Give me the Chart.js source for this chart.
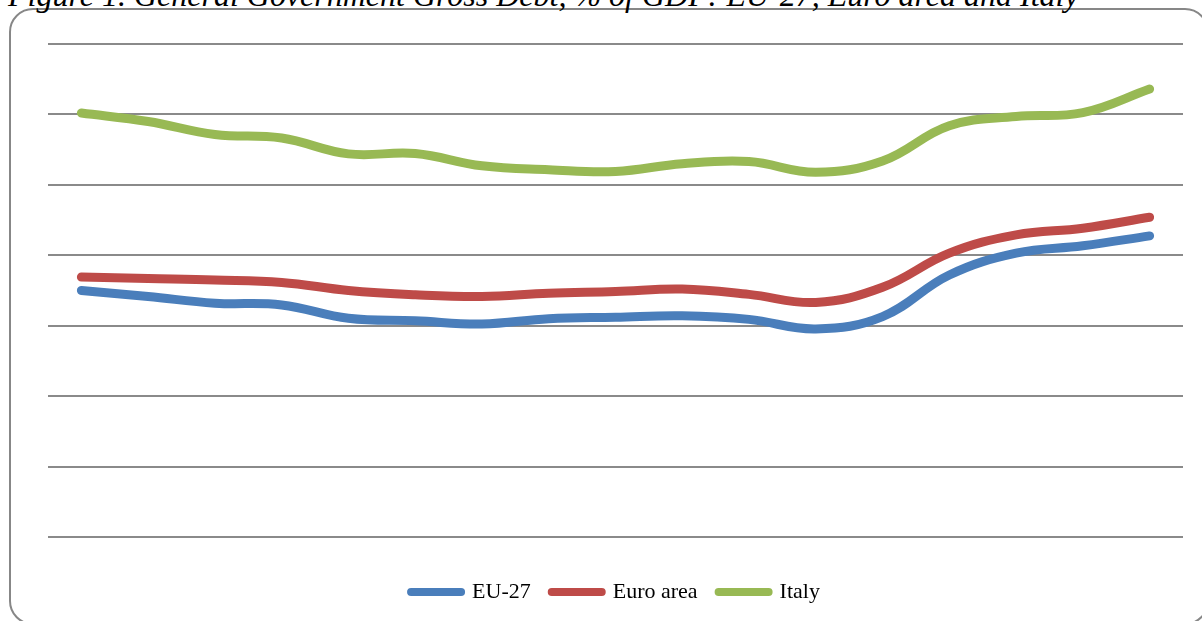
<!DOCTYPE html>
<html>
<head>
<meta charset="utf-8">
<title>General Government Gross Debt</title>
<script src="https://cdn.jsdelivr.net/npm/chart.js@4.4.1/dist/chart.umd.min.js"></script>
<style>
 html,body{margin:0;padding:0;background:#fff;overflow:hidden;}
 #wrap{position:relative;width:1202px;height:621px;overflow:hidden;}
 #frame{position:absolute;left:9px;top:8px;width:1200px;height:617px;
   border:2px solid #878787;border-radius:24px;box-sizing:border-box;}
 #title{position:absolute;left:8px;top:-21px;white-space:nowrap;
   font:italic 32px "Liberation Serif","Times New Roman",serif;line-height:1;color:#000;}
 #box{position:absolute;left:0;top:0;width:1202px;height:621px;}
</style>
</head>
<body>
<div id="wrap">
 <div id="frame"></div>
 <div id="title">Figure 1. General Government Gross Debt, % of GDP: EU-27, Euro area and Italy</div>
 <div id="box"><canvas id="debtChart"></canvas></div>
</div>

<script>
// gross debt, % of GDP
const years = ["1996","1997","1998","1999","2000","2001","2002","2003","2004",
 "2005","2006","2007","2008","2009","2010","2011","2012"];

const eu27 = [70.0,68.3,66.4,65.9,62.1,61.4,60.5,62.0,62.4,62.8,61.8,59.1,62.6,74.4,80.6,82.7,85.5];
const euroArea = [73.8,73.4,73.0,72.3,70.0,68.8,68.3,69.2,69.7,70.4,68.9,66.6,70.9,80.6,85.8,87.7,90.8];
const italy = [120.4,118.0,114.3,113.3,108.8,108.9,105.4,104.3,103.8,106.0,106.6,103.6,106.8,116.8,119.4,120.5,127.2];

const yTicks = [0,20,40,60,80,100,120,140];

const LINE_W = 9;

function series(label, values, color){
 return {
   label:label,
   data:values,
   borderColor:color,
   backgroundColor:color,
   borderWidth:LINE_W,
   borderCapStyle:"round",
   borderJoinStyle:"round",
   pointRadius:0,
   pointHoverRadius:0,
   tension:0.4,
   fill:false
 };
}

new Chart(document.getElementById("debtChart"),{
 type:"line",
 data:{
   labels:years,
   datasets:[
     series("EU-27", eu27, "#4A7EBB"),
     series("Euro area", euroArea, "#BE4B48"),
     series("Italy", italy, "#98B954")
   ]
 },
 options:{
   responsive:true,
   maintainAspectRatio:false,
   animation:false,
   layout:{padding:{left:48,right:19,top:44,bottom:8}},
   plugins:{
     tooltip:{enabled:false},
     legend:{
       position:"bottom",
       labels:{
         usePointStyle:true,
         pointStyle:"line",
         pointStyleWidth:50,
         padding:21,
         color:"#000",
         font:{family:"'Liberation Serif', 'Times New Roman', serif",size:22},
         // rounded legend strokes, same weight as the lines
         generateLabels:(chart)=>{
           const items = Chart.defaults.plugins.legend.labels.generateLabels(chart);
           items.forEach(it=>{ it.lineCap = "round"; it.lineWidth = 8; });
           return items;
         }
       }
     }
   },
   scales:{
     x:{
       offset:true,
       grid:{display:false},
       border:{display:false},
       ticks:{display:false},
       afterFit:(axis)=>{ axis.height = 23; }
     },
     y:{
       min:yTicks[0],
       max:yTicks[yTicks.length-1],
       afterBuildTicks:(axis)=>{ axis.ticks = yTicks.map(v=>({value:v})); },
       grid:{color:"#8a8a8a",lineWidth:2,drawTicks:false},
       border:{display:false},
       ticks:{display:false}
     }
   }
 }
});
</script>
</body>
</html>
